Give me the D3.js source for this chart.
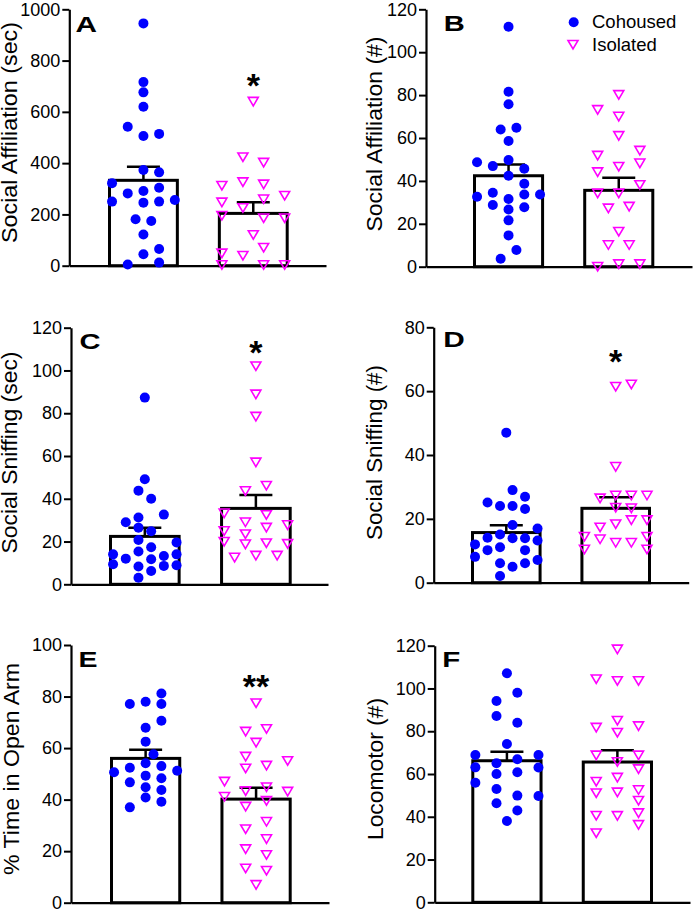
<!DOCTYPE html>
<html>
<head>
<meta charset="utf-8">
<script src="https://cdn.jsdelivr.net/npm/d3@7/dist/d3.min.js"></script>
<style>
  html, body { margin: 0; padding: 0; background: #fff; }
  svg { display: block; }
  text { font-family: "Liberation Sans", Arial, Helvetica, sans-serif; fill: #000; }
</style>
</head>
<body>
<div id="chart"></div>
<script>
// ---------------- DATA ----------------
const groups = ["Cohoused", "Isolated"];

// Panel A: Social Affiliation (sec)
const cohA = [945,716,676,620,542,506,514,373,364,322,304,282,291,250,246,250,256,181,174,122,45,65,5,12];
const cohAJit = [0,0,0,0,-0.5,0,0.5,0,0.5,-1,0.5,-0.5,0,-1,0,0.5,1,-0.25,0.25,0,0,0.5,-0.5,0.5];
const isoA = [640,423,402,312,326,317,273,247,259,225,195,185,185,120,70,48,39,3,3,3];
const isoAJit = [0,-0.33,0.33,-1,-0.33,0.33,1,-1,0.33,-0.33,-1,0.33,1,0,0.33,-1,-0.33,-1,0.33,1];
const meanA = [333, 204];
const semA = [53, 43];

// Panel B: Social Affiliation (#)
const cohB = [111.9,81.6,75.7,64,64.8,58.6,48.7,49.7,46.9,45.7,42.4,38.7,34.5,33.7,33.7,32.6,31.6,28.8,26.7,27.7,21.6,14.6,7.8,3.7];
const cohBJit = [0,0,0,-0.25,0.25,0,-1,0,-0.5,0.5,0,0.5,-0.5,0.5,1,-1,0,-0.5,0,0.5,0,0,0.25,-0.25];
const isoB = [80.1,73.1,70,61,54.1,51.8,46.6,48.2,44.1,38.1,34.2,34.2,27.2,28,16.3,10.1,10.1,0,1.2,1.2];
const isoBJit = [0,-0.67,0,0,0.67,-0.67,0,0.67,-0.67,0.67,-0.67,0,-0.33,0.33,0,-0.33,0.33,-0.67,0,0.67];
const meanB = [42.4, 35.6];
const semB = [5.3, 5.9];

// Panel C: Social Sniffing (sec)
const cohC = [87.3,49.1,43.8,40,32.6,29,31.2,26.5,24.8,20.7,19.6,17.3,15.3,14,14,13.2,12,11.7,9.4,8.6,8.9,8.3,6.2,3.1];
const cohCJit = [0,0,-0.2,0.2,0.6,-0.6,-0.2,-0.2,0.2,-0.2,1,0.2,-0.2,-1,1,0.6,-0.6,0.2,-1,0.6,1,-0.2,0.2,-0.2];
const isoC = [102,88.8,78.4,57,46.1,43.6,33.2,32.4,29,27.7,26.5,24.9,23.4,19.9,18.7,19.2,18.9,13.4,12.5,13.4];
const isoCJit = [0,0,0,0,0.33,-0.33,-1,0.33,-0.33,1,0.33,-1,-0.33,-1,-0.33,0.33,1,0,-0.67,0.67];
const meanC = [22.4, 35.5];
const semC = [4.1, 6.3];

// Panel D: Social Sniffing (#)
const cohD = [47,29,25.1,26.9,24,24,23.1,18.1,17,14.1,15.1,13.9,13.9,12,13.2,11.1,10.2,10.2,8.1,7.1,6.1,6.1,5,2.1];
const cohDJit = [0,0.2,-0.6,0.6,-0.2,0.2,0.6,0.2,1,-0.6,-0.2,0.2,0.6,-1,1,-0.2,-0.6,0.6,-1,1,-0.2,0.6,0.2,-0.2];
const isoD = [61.4,62.1,36.3,26.4,27.3,27.3,27.3,23.5,23.3,19.6,19.6,18.3,17.3,14.4,14.4,13.6,12.5,12.5,10.4,10.4];
const isoDJit = [0,0.5,0,-0.5,0,0.5,1,0,0.5,0.5,1,0,-0.5,-1,1,-0.5,0,0.5,-1,1];
const meanD = [15.7, 23.3];
const semD = [2.3, 3.5];

// Panel E: % Time in Open Arm
const cohE = [81.2,77.1,78,77.1,70.6,67.9,62.5,57.6,54.1,50.6,52.4,53,51.2,49.3,48.3,46.7,44.8,43.7,40.8,39.2,37];
const cohEJit = [0.5,-0.5,0,0.5,0.5,0,0,0.25,0,-1,-0.5,0.5,1,0,0.5,-0.5,0,0.5,0,0.5,-0.5];
const isoE = [77.4,66.4,67.4,62.1,56.7,55,52.1,53.2,47,43.3,44.8,43.1,41.1,39.5,37.3,31.4,28.5,24.7,20.8,18.5,13.3,12.4,6.9];
const isoEJit = [0,-0.33,0.33,0,-0.33,1,-0.33,0.33,-1,-0.33,0.33,1,-1,0.33,-0.33,0.33,-0.33,0.33,-0.33,0.33,-0.33,0.33,0];
const meanE = [56, 40.2];
const semE = [3.4, 4.4];

// Panel F: Locomotor (#)
const cohF = [107.1,98,94.1,87.1,84,74,68.9,68.9,65,66.9,63.1,63,60,60.8,55.9,53,49.9,49.7,46.3,42.9,38];
const cohFJit = [0,0.33,-0.33,-0.33,0.33,0,-1,1,-0.33,0.33,-1,1,-0.33,0.33,-1,-0.33,0.33,1,-0.33,0.33,0];
const isoF = [118.3,104.3,103.5,103.5,84.9,81.7,82.4,79.3,68.7,68.7,65.6,62.3,58.3,56.4,51,51.4,52.5,47.5,40.5,40.4,41.7,36.2,32.3];
const isoFJit = [0,-0.67,0,0.67,0,-0.67,0.67,0,-0.67,0.67,0,0.67,0,-0.67,-0.67,0,0.67,0.67,-0.67,0,0.67,0.67,-0.67];
const meanF = [66.2, 65.6];
const semF = [4.2, 5.5];

// axis maxima, tick steps, titles, significance marks
const yMax = [1000, 120, 120, 80, 100, 120];
const yStep = [200, 20, 20, 20, 20, 20];
const yTitles = ["Social Affiliation (sec)", "Social Affiliation (#)", "Social Sniffing (sec)", "Social Sniffing (#)", "% Time in Open Arm", "Locomotor (#)"];
const panelLetters = ["A", "B", "C", "D", "E", "F"];
const sigLabels = ["*", "", "*", "*", "**", ""];
const sigValues = [732, null, 112, 71.6, 86.8, null];

// ---------------- LAYOUT ----------------
const layout = [
  {axisX: 69.3, xEnd: 326, y0: 265.7, yTop: 9.3,  b0: 108,   b1: 288.7, tX: 17.3, tY: 132.5, tLen: 221, lX: 75.5,  lY: 31.7, lLen: 21.5},
  {axisX: 426,  xEnd: 692, y0: 266.7, yTop: 9.3,  b0: 473,   b1: 654.3, tX: 381.5,tY: 134,   tLen: 195, lX: 443.8, lY: 30.7, lLen: 21},
  {axisX: 71,   xEnd: 328, y0: 584.3, yTop: 327.7,b0: 109,   b1: 291.7, tX: 17,   tY: 452.5, tLen: 202, lX: 79.5,  lY: 349.3,lLen: 21},
  {axisX: 433.7,xEnd: 688.7,y0: 582.7,yTop: 327.3,b0: 471,   b1: 651,   tX: 382,  tY: 452.5, tLen: 175, lX: 443.2, lY: 346.7,lLen: 21.5},
  {axisX: 71,   xEnd: 329, y0: 902.7, yTop: 645,  b0: 110,   b1: 291.7, tX: 19,   tY: 769,   tLen: 212, lX: 78.5,  lY: 666.7,lLen: 19},
  {axisX: 434.7,xEnd: 690, y0: 902.3, yTop: 645.7,b0: 471.3, b1: 653,   tX: 383,  tY: 769,   tLen: 142, lX: 442.2, lY: 666.7,lLen: 18}
];

const panelData = [
  [cohA, cohAJit, isoA, isoAJit, meanA, semA],
  [cohB, cohBJit, isoB, isoBJit, meanB, semB],
  [cohC, cohCJit, isoC, isoCJit, meanC, semC],
  [cohD, cohDJit, isoD, isoDJit, meanD, semD],
  [cohE, cohEJit, isoE, isoEJit, meanE, semE],
  [cohF, cohFJit, isoF, isoFJit, meanF, semF]
];

const BLUE = "#0000ff", MAGENTA = "#ff00ff";
const triPath = (w, h) => `M${-w/2},${-h/2}L${w/2},${-h/2}L0,${h/2}Z`;

const svg = d3.select("#chart").append("svg")
  .attr("width", 694).attr("height", 911);

panelData.forEach((pd, i) => {
  const L = layout[i];
  const [coh, cohJ, iso, isoJ, means, sems] = pd;
  const g = svg.append("g");

  const y = d3.scaleLinear().domain([0, yMax[i]]).range([L.y0, L.yTop]);
  const x = d3.scaleBand().domain(groups).range([L.b0, L.b1]).paddingInner(0.355).paddingOuter(0);
  const bw = x.bandwidth();
  const spread = bw * 0.443;

  // bars
  g.selectAll("rect.bar").data(groups).join("rect")
    .attr("x", d => x(d) + 1.5)
    .attr("width", bw - 3)
    .attr("y", (d, k) => y(means[k]))
    .attr("height", (d, k) => L.y0 - y(means[k]))
    .attr("fill", "#fff").attr("stroke", "#000").attr("stroke-width", 3);

  // error bars (upper only)
  groups.forEach((grp, k) => {
    const cx = x(grp) + bw / 2;
    g.append("line").attr("x1", cx).attr("x2", cx)
      .attr("y1", y(means[k])).attr("y2", y(means[k] + sems[k]))
      .attr("stroke", "#000").attr("stroke-width", 2.5);
    g.append("line").attr("x1", cx - 16.5).attr("x2", cx + 16.5)
      .attr("y1", y(means[k] + sems[k])).attr("y2", y(means[k] + sems[k]))
      .attr("stroke", "#000").attr("stroke-width", 2.5);
  });

  // x axis line
  const xl = d3.scaleLinear().range([L.axisX, L.xEnd]);
  g.append("g").attr("transform", `translate(0,${L.y0})`)
    .call(d3.axisBottom(xl).tickValues([]).tickSizeOuter(0))
    .call(s => s.select(".domain").attr("stroke-width", 2.2).attr("stroke", "#000"));

  // y axis
  const yAxis = g.append("g").attr("transform", `translate(${L.axisX},0)`)
    .call(d3.axisLeft(y).tickValues(d3.range(0, yMax[i] + 0.001, yStep[i]))
      .tickSize(7).tickPadding(2).tickSizeOuter(0).tickFormat(d3.format("d")));
  yAxis.select(".domain").attr("stroke-width", 2.2).attr("stroke", "#000");
  yAxis.selectAll(".tick line").attr("stroke-width", 2).attr("stroke", "#000");
  yAxis.selectAll(".tick text").attr("font-size", 18).attr("fill", "#000")
    .attr("font-family", '"Liberation Sans", Arial, sans-serif');

  // points: cohoused circles
  const cxC = x(groups[0]) + bw / 2;
  g.selectAll("circle.pt").data(coh).join("circle")
    .attr("cx", (d, k) => cxC + cohJ[k] * spread)
    .attr("cy", d => y(d))
    .attr("r", 5).attr("fill", BLUE);

  // points: isolated triangles
  const cxI = x(groups[1]) + bw / 2;
  g.selectAll("path.pt").data(iso).join("path")
    .attr("d", triPath(10, 8.5))
    .attr("transform", (d, k) => `translate(${cxI + isoJ[k] * spread},${y(d)})`)
    .attr("fill", "none").attr("stroke", MAGENTA).attr("stroke-width", 1.6)
    .attr("stroke-linejoin", "miter");

  // y title (baseline at tX, rotated)
  g.append("text")
    .attr("transform", `translate(${L.tX},${L.tY}) rotate(-90)`)
    .attr("text-anchor", "middle")
    .attr("font-size", 22.5)
    .attr("textLength", L.tLen).attr("lengthAdjust", "spacingAndGlyphs")
    .text(yTitles[i]);

  // panel letter
  g.append("text")
    .attr("x", L.lX).attr("y", L.lY)
    .attr("font-size", 22.5).attr("font-weight", "bold")
    .attr("textLength", L.lLen).attr("lengthAdjust", "spacingAndGlyphs")
    .text(panelLetters[i]);

  // significance
  if (sigLabels[i]) {
    const fs = 34;
    g.append("text")
      .attr("x", cxI).attr("y", y(sigValues[i]) + 0.56 * fs)
      .attr("text-anchor", "middle")
      .attr("font-size", fs).attr("font-weight", "bold")
      .text(sigLabels[i]);
  }
});

// legend (in panel B)
const leg = svg.append("g");
const legItems = groups;
leg.append("circle").attr("cx", 573.7).attr("cy", 22.3).attr("r", 5).attr("fill", BLUE);
leg.append("path").attr("d", triPath(10, 8.5))
  .attr("transform", "translate(573,44.7)")
  .attr("fill", "none").attr("stroke", MAGENTA).attr("stroke-width", 1.6);
leg.selectAll("text").data(legItems).join("text")
  .attr("x", 592).attr("y", (d, k) => 28.3 + k * 22.4)
  .attr("font-size", 18.5)
  .text(d => d);
</script>
</body>
</html>
